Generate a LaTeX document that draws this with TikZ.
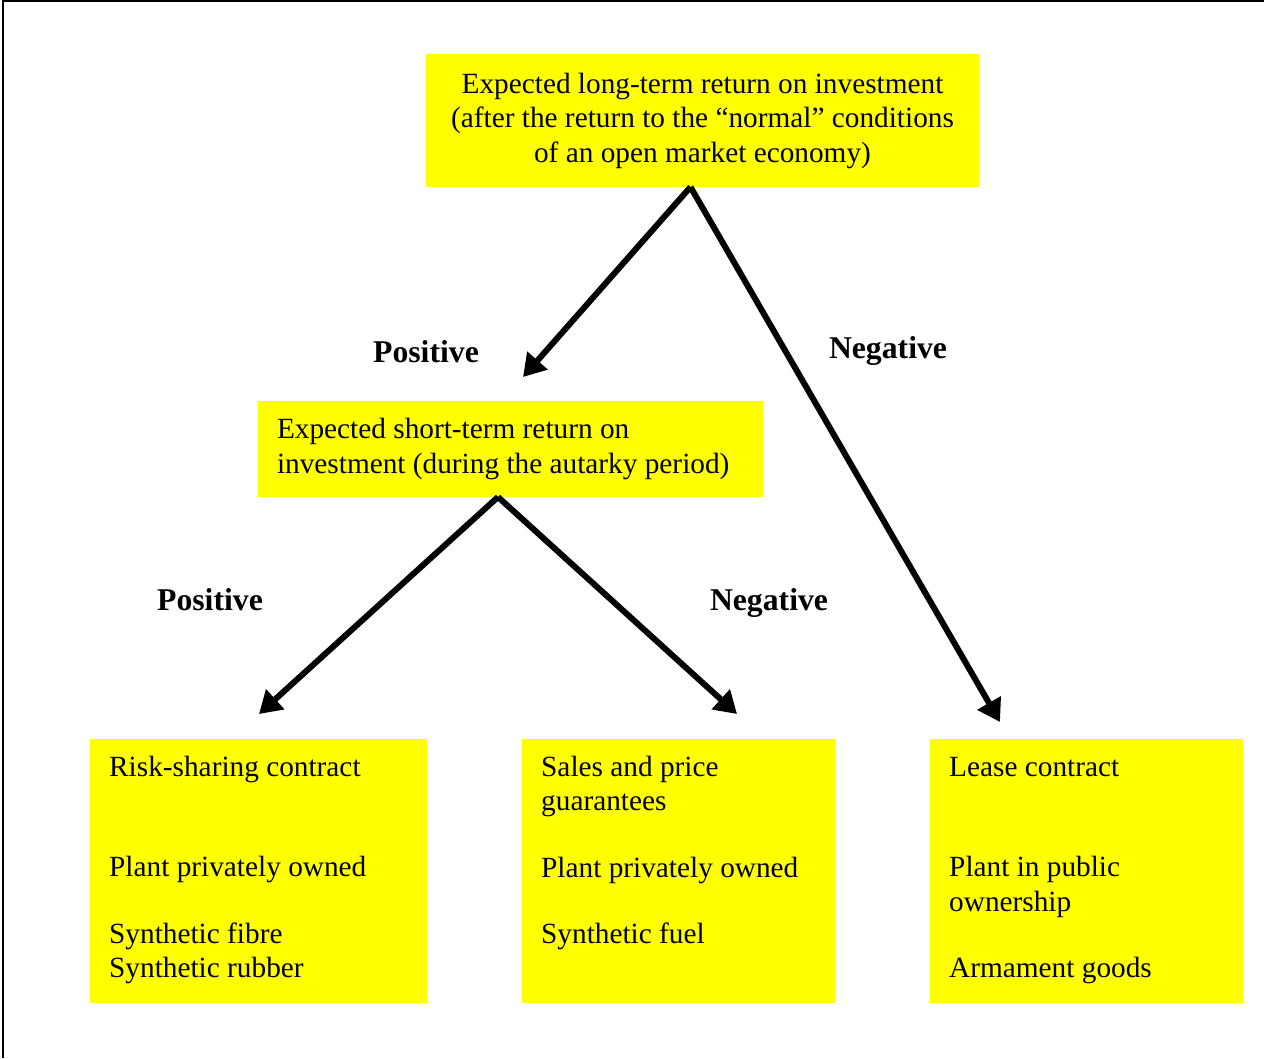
\documentclass[tikz,border=0pt]{standalone}
\usepackage{fontspec}
\setmainfont{Liberation Serif}
\usepackage{tikz}
\usetikzlibrary{positioning,calc,arrows.meta}
\definecolor{boxyellow}{RGB}{255,255,0}
\tikzstyle{ybox} = [rectangle, fill=boxyellow, inner sep=0pt, outer sep=0pt, font=\fontsize{29.3}{34.5}\selectfont]
\tikzstyle{btext} = [inner sep=0pt, align=flush left, anchor=north west, font=\fontsize{29.3}{34.5}\selectfont]
\tikzstyle{lab} = [inner sep=0pt, font=\fontsize{31.7}{36}\selectfont\bfseries]
\tikzstyle{arrow} = [line width=6pt, -{Triangle[length=22pt,width=26pt]}]

\begin{document}
\begin{tikzpicture}[x=1pt,y=-1pt]
        \useasboundingbox (0,0) rectangle (1264,1058);
        \draw[line width=2pt] (3,1058) -- (3,1) -- (1264,1);
        \node[ybox, minimum width=553pt, minimum height=133pt, align=center] (longterm) at (702.5,120.5) {Expected long-term return on investment\\(after the return to the “normal” conditions\\of an open market economy)};
        \node[ybox, minimum width=505pt, minimum height=96pt, text width=467pt, inner xsep=19pt, align=flush left] (shortterm) at (510.5,449) {Expected short-term return on\\investment (during the autarky period)};
        \node[ybox, minimum width=337pt, minimum height=264pt] (risk) at (258.5,871) {};
        \node[ybox, minimum width=313pt, minimum height=264pt] (sales) at (678.5,871) {};
        \node[ybox, minimum width=313pt, minimum height=264pt] (lease) at (1086.5,871) {};
        \node[btext] (risktxt) at ($(risk.north west)+(19,13)$) {\strut Risk-sharing contract\\[66pt]Plant privately owned\\[32pt]Synthetic fibre\\Synthetic rubber};
        \node[btext] (salestxt) at ($(sales.north west)+(19,13)$) {\strut Sales and price\\guarantees\\[32pt]Plant privately owned\\[32pt]Synthetic fuel};
        \node[btext] (leasetxt) at ($(lease.north west)+(19,13)$) {\strut Lease contract\\[66pt]Plant in public\\ownership\\[32pt]Armament goods};
        \draw[arrow] ($(longterm.south)+(-12,0)$) -- ($(shortterm.north)+(12.5,-24)$);
        \draw[arrow] ($(longterm.south)+(-12,0)$) -- ($(lease.north)+(-86.5,-17)$);
        \draw[arrow] ($(shortterm.south)+(-12.5,0)$) -- ($(risk.north)+(0.5,-25)$);
        \draw[arrow] ($(shortterm.south)+(-12.5,0)$) -- ($(sales.north)+(58.5,-25)$);
        \node[lab] (pos1) at (426,352) {Positive};
        \node[lab] (neg1) at (888,351) {Negative};
        \node[lab] (pos2) at (210,600) {Positive};
        \node[lab] (neg2) at (769,603) {Negative};
\end{tikzpicture}
\end{document}
